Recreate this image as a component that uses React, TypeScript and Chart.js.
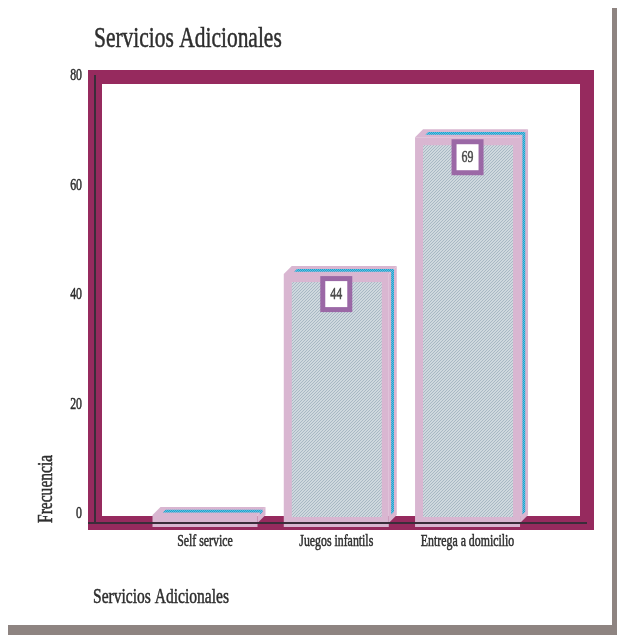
import React, { useEffect, useRef } from 'react';
import { Chart, registerables } from 'chart.js';

Chart.register(...registerables);

// Chart data
const categories = ['Self service', 'Juegos infantils', 'Entrega a domicilio'];
const frequencies = [0, 44, 69];
const yTicks = [0, 20, 40, 60, 80];
const chartTitle = 'Servicios Adicionales';
const xTitle = 'Servicios Adicionales';
const yTitle = 'Frecuencia';

// Styling
const MAROON = '#962a5e';
const PINK = '#d9b6d1';
const AXIS = '#3a2d3a';
const PURPLE = '#9b68a6';
const TEXT = '#2e2e2e';
const FONT = '"Liberation Serif", "Times New Roman", serif';
const SQUEEZE = 0.74; // horizontal compression for the condensed lettering
const FLOOR = 8; // distance from the zero line to the floor line
const DEPTH = 8; // 3D depth of the bars
const EDGE = 7; // width of the pink bar rim

function makePattern(ctx: CanvasRenderingContext2D, bg: string, fg: string, size: number) {
  const c = document.createElement('canvas');
  c.width = size;
  c.height = size;
  const p = c.getContext('2d')!;
  p.fillStyle = bg;
  p.fillRect(0, 0, size, size);
  p.fillStyle = fg;
  for (let i = 0; i < size; i++) p.fillRect(i, size - 1 - i, 1, 1);
  return ctx.createPattern(c, 'repeat')!;
}

function drawText(
  ctx: CanvasRenderingContext2D,
  text: string,
  x: number,
  y: number,
  size: number,
  align: CanvasTextAlign,
  baseline: CanvasTextBaseline = 'alphabetic',
  rotate = false,
  color = TEXT,
) {
  ctx.save();
  ctx.translate(x, y);
  if (rotate) ctx.rotate(-Math.PI / 2);
  ctx.scale(SQUEEZE, 1);
  ctx.font = `${size}px ${FONT}`;
  ctx.fillStyle = color;
  ctx.strokeStyle = color;
  ctx.lineWidth = 0.5;
  ctx.textAlign = align;
  ctx.textBaseline = baseline;
  ctx.fillText(text, 0, 0);
  ctx.strokeText(text, 0, 0);
  ctx.restore();
}

function poly(ctx: CanvasRenderingContext2D, pts: number[][], fill: string | CanvasPattern) {
  ctx.beginPath();
  ctx.moveTo(pts[0][0], pts[0][1]);
  for (let i = 1; i < pts.length; i++) ctx.lineTo(pts[i][0], pts[i][1]);
  ctx.closePath();
  ctx.fillStyle = fill;
  ctx.fill();
}

const bars3d = {
  id: 'bars3d',
  beforeDatasetsDraw(chart: any) {
    const { ctx, chartArea } = chart;
    const { left, top, right, bottom } = chartArea;
    ctx.save();
    ctx.strokeStyle = MAROON;
    ctx.lineWidth = 14;
    ctx.strokeRect(left, top, right - left, bottom + FLOOR - top);
    ctx.restore();
  },
  afterDatasetsDraw(chart: any) {
    const { ctx, chartArea } = chart;
    const { left, top: areaTop, right, bottom } = chartArea;
    const hatch = makePattern(ctx, '#cfd8de', '#a8b8c4', 3);
    const cyan = makePattern(ctx, '#5cc3e2', '#1f9fcc', 2);
    const meta = chart.getDatasetMeta(0);
    const D = DEPTH;
    ctx.save();
    meta.data.forEach((el: any, i: number) => {
      const { x, y, base, width } = el.getProps(['x', 'y', 'base', 'width'], true);
      const fl = x - width / 2;
      const fr = x + width / 2;
      const top = y;
      const bot = base + FLOOR;
      // front face
      poly(ctx, [[fl, top], [fr, top], [fr, bot + 4], [fl, bot + 4]], PINK);
      const hh = base + 2 - (top + EDGE + 1);
      if (hh > 0) {
        ctx.fillStyle = hatch;
        ctx.fillRect(fl + EDGE + 1, top + EDGE + 1, width - 2 * EDGE - 1, hh);
      }
      // top and side faces
      poly(ctx, [[fl, top], [fl + D, top - D], [fr + D, top - D], [fr, top]], PINK);
      poly(ctx, [[fr, top], [fr + D, top - D], [fr + D, bot - D], [fr, bot]], PINK);
      const a = 0.3 * D;
      const b = 0.65 * D;
      poly(ctx, [[fl + EDGE + 1 + a, top - a], [fl + EDGE + 1 + b, top - b], [fr + b, top - b], [fr + a, top - a]], cyan);
      poly(ctx, [[fr + a, top - a], [fr + b, top - b], [fr + b, base + 2 - b], [fr + a, base + 2 - a]], cyan);
      // value label
      const v = frequencies[i];
      if (v > 0) {
        const bw = 32;
        const bh = 36;
        const bx = x - bw / 2;
        const by = top + 2;
        ctx.fillStyle = PURPLE;
        ctx.fillRect(bx, by, bw, bh);
        ctx.fillStyle = '#ffffff';
        ctx.fillRect(bx + 5, by + 5, bw - 10, bh - 10);
        drawText(ctx, String(v), x, by + bh / 2 + 1, 16, 'center', 'middle', false, '#4a4a4a');
      }
    });
    // axis lines
    ctx.fillStyle = AXIS;
    ctx.fillRect(left - 1, areaTop - 2, 2, bottom + FLOOR - areaTop + 3);
    ctx.fillRect(left - 7, bottom + FLOOR - 1, right - left + 7, 2);
    ctx.restore();
  },
  afterDraw(chart: any) {
    const { ctx, chartArea, scales } = chart;
    const { left, bottom } = chartArea;
    drawText(ctx, chartTitle, left - 1, 47, 29, 'left');
    yTicks.forEach((t) => {
      drawText(ctx, String(t), left - 13, scales.y.getPixelForValue(t) - 1, 16, 'right', 'middle');
    });
    categories.forEach((c, i) => {
      drawText(ctx, c, scales.x.getPixelForValue(i + 1), bottom + 31, 16, 'center');
    });
    drawText(ctx, xTitle, left - 2, bottom + 88, 21, 'left');
    drawText(ctx, yTitle, left - 43, bottom + FLOOR, 21, 'left', 'alphabetic', true);
  },
};

export default function App() {
  const ref = useRef<HTMLCanvasElement | null>(null);

  useEffect(() => {
    if (!ref.current) return;
    const chart = new Chart(ref.current, {
      type: 'bar',
      data: {
        datasets: [
          {
            data: frequencies.map((v, i) => ({ x: i + 1, y: v })),
            backgroundColor: 'rgba(0,0,0,0)',
            borderWidth: 0,
            barThickness: 105,
          },
        ],
      },
      options: {
        responsive: false,
        animation: false,
        layout: { padding: { left: 95, right: 25, top: 77, bottom: 110 } },
        scales: {
          x: { type: 'linear', min: 0.162, max: 3.91, offset: false, display: false },
          y: { min: 0, max: 80, display: false },
        },
        plugins: {
          legend: { display: false },
          tooltip: { enabled: false },
          title: { display: false },
        },
      },
      plugins: [bars3d],
    } as any);
    return () => chart.destroy();
  }, []);

  return (
    <div style={{ position: 'absolute', left: 0, top: 0, width: 617, height: 635, overflow: 'hidden' }}>
      <div style={{ position: 'absolute', left: 8, top: 8, width: 609, height: 627, background: '#8e8481' }} />
      <div style={{ position: 'absolute', left: 0, top: 0, width: 612, height: 625, background: '#ffffff' }}>
        <canvas ref={ref} width={612} height={625} style={{ display: 'block' }} />
      </div>
    </div>
  );
}
